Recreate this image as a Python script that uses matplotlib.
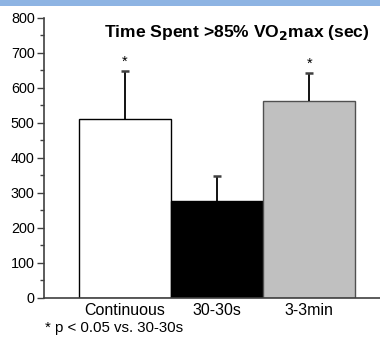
import matplotlib

matplotlib.use("Agg")
import matplotlib.pyplot as plt
from matplotlib.patches import Rectangle
from matplotlib.ticker import MultipleLocator

plt.rcParams["font.family"] = ["Liberation Sans", "DejaVu Sans"]

# Data
groups = ["Continuous", "30-30s", "3-3min"]
means = [511, 277, 562]
sem = [138, 70, 81]
significant = [True, False, True]

fill_colors = ["#ffffff", "#000000", "#c0c0c0"]
edge_colors = ["#000000", "#000000", "#505050"]

fig = plt.figure(figsize=(3.8, 3.4), dpi=100)
fig.patches.append(Rectangle((0, 1 - 6 / 340), 1, 6 / 340, transform=fig.transFigure,
                             facecolor="#8eb4e3", edgecolor="none"))
ax = fig.add_axes([0.115, 0.124, 0.885, 0.824])

x = list(range(len(groups)))
ax.bar(x, means, width=1.0, color=fill_colors, edgecolor=edge_colors, linewidth=1.0, zorder=2)

# upper-only error bars
tops = [m + e for m, e in zip(means, sem)]
ax.vlines(x, means, tops, color="#000000", linewidth=1.3, zorder=3)
ax.hlines(tops, [xi - 0.04 for xi in x], [xi + 0.04 for xi in x], color="#404040",
          linewidth=1.8, zorder=3)

for xi, t, sig in zip(x, tops, significant):
    if sig:
        ax.text(xi, t + 4, "*", ha="center", va="bottom", fontsize=10.5)

fig.text(237 / 380, 1 - 32 / 340, r"Time Spent >85% VO$_\mathbf{2}$max (sec)",
         ha="center", va="center", fontsize=12.6, fontweight="bold")

ax.set_xlim(-0.884, 2.77)
ax.set_ylim(0, 800)
ax.yaxis.set_major_locator(MultipleLocator(100))
ax.yaxis.set_minor_locator(MultipleLocator(50))
ax.set_xticks(x)
ax.set_xticklabels(groups)
ax.tick_params(axis="y", which="major", length=5, width=1, labelsize=10.4, colors="#404040",
               labelcolor="black", pad=1.5)
ax.tick_params(axis="y", which="minor", length=3, width=1, colors="#404040")
ax.tick_params(axis="x", length=0, labelsize=11.5, pad=4)

for side in ["top", "right"]:
    ax.spines[side].set_visible(False)
for side in ["left", "bottom"]:
    ax.spines[side].set_color("#404040")
    ax.spines[side].set_linewidth(1.2)

fig.text(45 / 380, 1 - 328 / 340, "* p < 0.05 vs. 30-30s", ha="left", va="center", fontsize=10.8)

fig.savefig("out.png", dpi=100)
